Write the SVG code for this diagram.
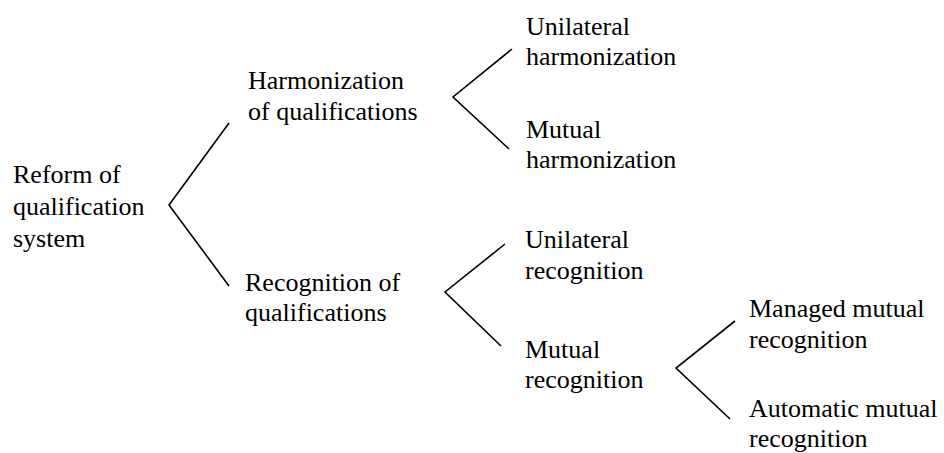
<svg xmlns="http://www.w3.org/2000/svg" width="944" height="453" viewBox="0 0 944 453">
<style>
text{font-family:"Liberation Serif","Times New Roman",serif;font-size:26px;fill:#000}
.c{fill:none;stroke:#000;stroke-width:1.6}
</style>
<rect width="944" height="453" fill="#fff"/>
<g id="connectors">
<polyline class="c" points="229,123 169,205 229,286"/>
<polyline class="c" points="512,49 453,97 509,149"/>
<polyline class="c" points="505,244 445,292 501,346"/>
<polyline class="c" points="735,321 676,368 730,419"/>
</g>
<g id="root"><text x="13" y="183">Reform of</text><text x="13" y="215">qualification</text><text x="13" y="247">system</text></g>
<g id="harmonization"><text x="248" y="89">Harmonization</text><text x="248" y="120">of qualifications</text></g>
<g id="recognition"><text x="245" y="291">Recognition of</text><text x="245" y="321">qualifications</text></g>
<g id="unilateral-harmonization"><text x="526" y="35">Unilateral</text><text x="526" y="65">harmonization</text></g>
<g id="mutual-harmonization"><text x="526" y="138">Mutual</text><text x="526" y="168">harmonization</text></g>
<g id="unilateral-recognition"><text x="525" y="248">Unilateral</text><text x="525" y="279">recognition</text></g>
<g id="mutual-recognition"><text x="525" y="358">Mutual</text><text x="525" y="388">recognition</text></g>
<g id="managed-mutual"><text x="749" y="317">Managed mutual</text><text x="749" y="348">recognition</text></g>
<g id="automatic-mutual"><text x="749" y="417">Automatic mutual</text><text x="749" y="447">recognition</text></g>
</svg>
